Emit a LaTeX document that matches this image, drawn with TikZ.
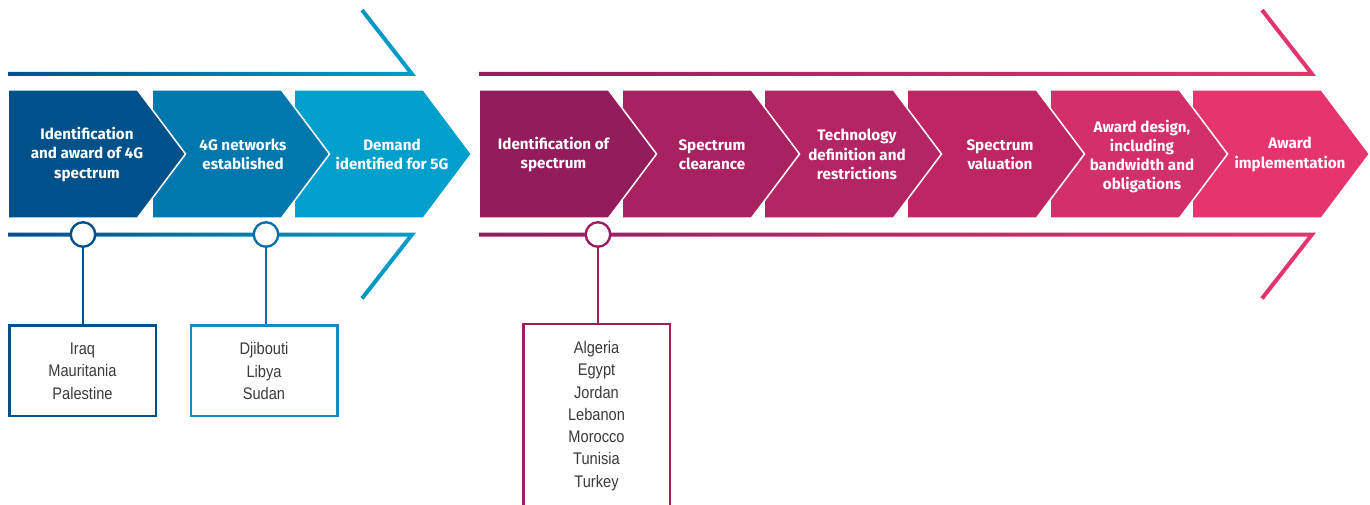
\documentclass[tikz,border=0pt]{standalone}
\usepackage{fontspec}
\setmainfont{Fira Sans}
\newfontfamily\cfont[FakeStretch=0.87]{Liberation Sans}
\definecolor{b1}{HTML}{005189}
\definecolor{b2}{HTML}{0077AD}
\definecolor{b3}{HTML}{009FCC}
\definecolor{bc2}{HTML}{0C70A8}
\definecolor{bk2}{HTML}{1A88C2}
\definecolor{p1}{HTML}{931C5D}
\definecolor{p2}{HTML}{A82161}
\definecolor{p3}{HTML}{B42563}
\definecolor{p4}{HTML}{BD2663}
\definecolor{p5}{HTML}{D32F6A}
\definecolor{p6}{HTML}{E6356D}
\definecolor{pc}{HTML}{9A1F62}
\definecolor{txt}{HTML}{3A3A3A}
\newcommand\mychev[2]{%
  \fill[#2, draw=white, line width=1.5pt] (#1,90) -- ++(129.5,0) -- ++(48,64) -- ++(-48,64) -- ++(-129.5,0) -- cycle;}
\begin{document}
\begin{tikzpicture}[x=1pt,y=-1pt,
  ctext/.style={text=white, font=\bfseries\fontsize{15.2}{19.2}\selectfont, align=center, inner sep=0pt},
  circ/.style={circle, fill=white, line width=2.4pt, minimum size=24.5pt, inner sep=0pt},
  cbox/.style={rectangle, fill=white, line width=2.5pt, minimum width=146.5pt, minimum height=90.5pt, inner sep=0pt},
  ltext/.style={text=txt, font=\cfont\fontsize{16.8}{22.3}\selectfont, align=center, inner sep=0pt},
  conn/.style={line width=2.2pt}]
\useasboundingbox (0,0) rectangle (1370,505);
\clip (0,0) rectangle (1370,505);
% blue guide lines
\shade[left color=b1, right color=b3] (8,72) -- (407.9,72) -- (360.4,11.2) -- (363.6,8.8) -- (416.1,76) -- (8,76) -- cycle;
\shade[left color=b1, right color=b3] (8,236.5) -- (407.9,236.5) -- (360.4,297.3) -- (363.6,299.7) -- (416.1,232.5) -- (8,232.5) -- cycle;
% pink guide lines
\shade[left color=p1, right color=p6] (479,72) -- (1307.9,72) -- (1260.4,11.2) -- (1263.6,8.8) -- (1316.1,76) -- (479,76) -- cycle;
\shade[left color=p1, right color=p6] (479,236.5) -- (1307.9,236.5) -- (1260.4,297.3) -- (1263.6,299.7) -- (1316.1,232.5) -- (479,232.5) -- cycle;
% chevrons (right to left so each tip overlaps the next)
\mychev{294}{b3}
\mychev{152}{b2}
\mychev{8}{b1}
\mychev{1192}{p6}
\mychev{1050}{p5}
\mychev{907}{p4}
\mychev{764}{p3}
\mychev{622}{p2}
\mychev{479}{p1}
% chevron texts
\node[ctext] (t1) at (87,154.5) {Identification\\and award of 4G\\spectrum};
\node[ctext] (t2) at (243,154.5) {4G networks\\established};
\node[ctext] (t3) at (392,154.5) {Demand\\identified for 5G};
\node[ctext] (t4) at (553.5,154.5) {Identification of\\spectrum};
\node[ctext] (t5) at (712,154.5) {Spectrum\\clearance};
\node[ctext] (t6) at (857,154.5) {Technology\\definition and\\restrictions};
\node[ctext] (t7) at (1000,154.5) {Spectrum\\valuation};
\node[ctext] (t8) at (1142,156.5) {Award design,\\including\\bandwidth and\\obligations};
\node[ctext] (t9) at (1290,154.5) {Award\\implementation};
% boxes
\node[cbox, draw=b1] (k1) at (82.5,370.5) {};
\node[cbox, draw=bk2] (k2) at (264,370.5) {};
\node[rectangle, fill=white, draw=pc, line width=2.5pt, minimum width=146.5pt, minimum height=220pt, inner sep=0pt] (k3) at (596.5,434) {};
\node[ltext] (l1) at (82.5,371) {Iraq\\Mauritania\\Palestine};
\node[ltext] (l2) at (264,371) {Djibouti\\Libya\\Sudan};
\node[ltext] (l3) at (596.5,416) {Algeria\\Egypt\\Jordan\\Lebanon\\Morocco\\Tunisia\\Turkey};
% circles
\node[circ, draw=b1] (c1) at (83,234.5) {};
\node[circ, draw=bc2] (c2) at (266,234.5) {};
\node[circ, draw=pc] (c3) at (598,234.5) {};
% connectors
\draw[conn, b1] (c1.south) -- (c1.south |- k1.north);
\draw[conn, bc2] (c2.south) -- (c2.south |- k2.north);
\draw[conn, pc] (c3.south) -- (c3.south |- k3.north);
\end{tikzpicture}
\end{document}
